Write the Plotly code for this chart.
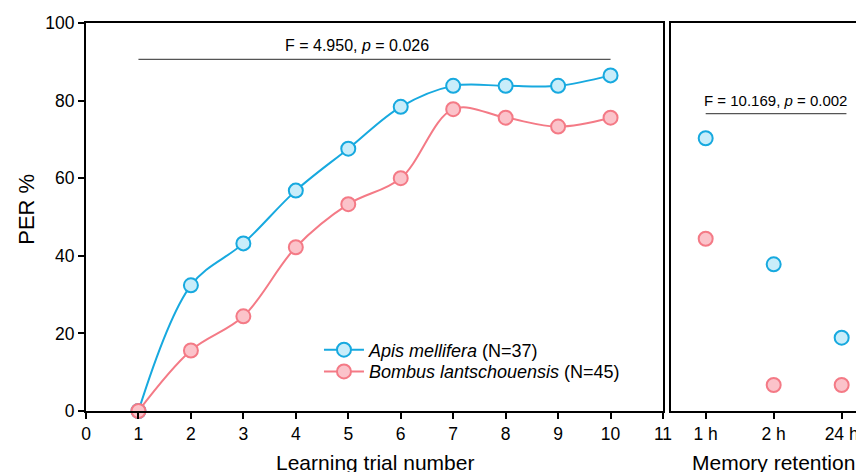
import plotly.graph_objects as go

trials = [1, 2, 3, 4, 5, 6, 7, 8, 9, 10]
apis_learning = [0, 32.4, 43.2, 56.8, 67.6, 78.4, 83.8, 83.8, 83.8, 86.5]
bombus_learning = [0, 15.6, 24.4, 42.2, 53.3, 60.0, 77.8, 75.6, 73.3, 75.6]

retention_labels = ["1 h", "2 h", "24 h"]
apis_retention = [70.3, 37.8, 18.9]
bombus_retention = [44.4, 6.7, 6.7]

x_ticks = list(range(0, 12))
y_ticks = [0, 20, 40, 60, 80, 100]

BLUE = "#17A9DF"
BLUE_FILL = "#C9EDFA"
PINK = "#F47A86"
PINK_FILL = "#FBC3CA"
FONT = "Liberation Sans, Arial, sans-serif"

fig = go.Figure()

fig.add_trace(go.Scatter(
    x=trials, y=apis_learning, mode="lines+markers",
    name="<i>Apis mellifera</i> (N=37)", legend="legend",
    line=dict(color=BLUE, width=2, shape="spline", smoothing=1),
    marker=dict(size=14, color=BLUE_FILL, line=dict(color=BLUE, width=2)),
    cliponaxis=False, xaxis="x", yaxis="y"))
fig.add_trace(go.Scatter(
    x=trials, y=bombus_learning, mode="lines+markers",
    name="<i>Bombus lantschouensis</i> (N=45)", legend="legend2",
    line=dict(color=PINK, width=2, shape="spline", smoothing=1),
    marker=dict(size=14, color=PINK_FILL, line=dict(color=PINK, width=2)),
    cliponaxis=False, xaxis="x", yaxis="y"))

fig.add_trace(go.Scatter(
    x=[0, 1, 2], y=apis_retention, mode="markers", showlegend=False,
    marker=dict(size=14, color=BLUE_FILL, line=dict(color=BLUE, width=2)),
    cliponaxis=False, xaxis="x2", yaxis="y2"))
fig.add_trace(go.Scatter(
    x=[0, 1, 2], y=bombus_retention, mode="markers", showlegend=False,
    marker=dict(size=14, color=PINK_FILL, line=dict(color=PINK, width=2)),
    cliponaxis=False, xaxis="x2", yaxis="y2"))

W, H = 864, 472
L, T, B = 78, 14.7, 69.3
pw = W - L
d1_end = (655 - L) / pw
d2_start = (663 - L) / pw

axis_common = dict(showline=True, linecolor="black", linewidth=2, ticks="outside",
                   ticklen=6, tickwidth=2, tickcolor="black", showgrid=False,
                   zeroline=False, tickfont=dict(size=17.5, color="black", family=FONT))

legend_common = dict(xanchor="left", yanchor="top", bgcolor="rgba(0,0,0,0)",
                     font=dict(size=18, family=FONT, color="black"), itemwidth=40)

fig.update_layout(
    width=W, height=H,
    margin=dict(l=L, r=0, t=T, b=B, autoexpand=False),
    paper_bgcolor="white", plot_bgcolor="white",
    font=dict(family=FONT, color="black"),
    xaxis=dict(domain=[0, d1_end], range=[0, 11], tickvals=x_ticks, mirror=True,
               **axis_common),
    yaxis=dict(domain=[0, 1], range=[0, 100], tickvals=y_ticks, mirror=True,
               **axis_common),
    xaxis2=dict(domain=[d2_start, 1], range=[-0.51, 2.446], tickvals=[0, 1, 2],
                ticktext=retention_labels, anchor="y2", mirror=True, **axis_common),
    yaxis2=dict(domain=[0, 1], range=[0, 100], anchor="x2", showticklabels=False,
                showline=True, linecolor="black", linewidth=2, ticks="",
                showgrid=False, zeroline=False),
    legend=dict(x=0.2964, y=0.205, **legend_common),
    legend2=dict(x=0.2964, y=0.149, **legend_common),
    showlegend=True,
)

# significance lines
fig.add_shape(type="line", xref="x", yref="y", x0=1, x1=10, y0=90.6, y1=90.6,
              line=dict(color="#555555", width=1.2))
fig.add_annotation(xref="x", yref="y", x=5.17, y=94.3, text="F = 4.950, <i>p</i> = 0.026",
                   showarrow=False, font=dict(size=16, family=FONT, color="black"))
fig.add_shape(type="line", xref="x2", yref="y2", x0=0, x1=2.07, y0=76.65, y1=76.65,
              line=dict(color="#555555", width=1.2))
fig.add_annotation(xref="x2", yref="y2", x=1.03, y=80.1, text="F = 10.169, <i>p</i> = 0.002",
                   showarrow=False, font=dict(size=15, family=FONT, color="black"))

# axis titles
fig.add_annotation(xref="paper", yref="paper", x=0, y=0.52, xshift=-59.5,
                   text="PER %", textangle=-90, showarrow=False,
                   xanchor="center", yanchor="middle",
                   font=dict(size=22, family=FONT, color="black"))
fig.add_annotation(xref="x", yref="paper", x=5.5, y=-0.134, yanchor="middle",
                   text="Learning trial number", showarrow=False,
                   font=dict(size=21, family=FONT, color="black"))
fig.add_annotation(xref="x2", yref="paper", x=1.0, y=-0.134, yanchor="middle",
                   text="Memory retention", showarrow=False,
                   font=dict(size=21, family=FONT, color="black"))

fig.write_html("out.html")
